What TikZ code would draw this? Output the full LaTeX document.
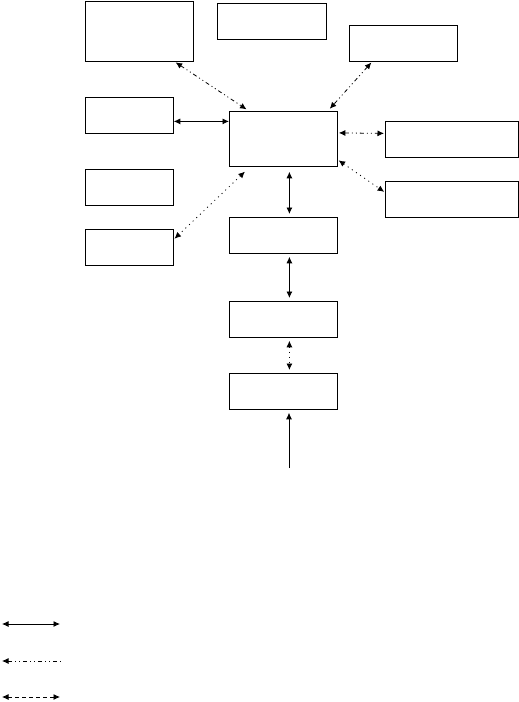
\documentclass[tikz,border=0pt]{standalone}
\usetikzlibrary{arrows.meta,positioning}

\tikzset{
  blk/.style={draw, line width=0.8pt, inner sep=0pt, anchor=north west},
  lnk/.style={line width=0.8pt, {Latex[length=6.5pt,width=6pt]}-{Latex[length=6.5pt,width=6pt]}},
  onelnk/.style={line width=0.8pt, {Latex[length=6.5pt,width=6pt]}-},
  dshdot/.style={dash pattern=on 4pt off 3pt on 1pt off 3pt on 1pt off 3pt},
  dots/.style={dash pattern=on 1pt off 4pt},
  dsh/.style={dash pattern=on 4pt off 3pt},
}

\begin{document}
\begin{tikzpicture}[x=1pt,y=-1pt]
    \useasboundingbox (0,0) rectangle (519,702);
    % Top row
    \node[blk, minimum width=108pt, minimum height=60pt] (tl) at (85,1) {};
    \node[blk, minimum width=109pt, minimum height=36pt] (tm) at (217,3) {};
    \node[blk, minimum width=108pt, minimum height=36pt] (tr) at (349,25) {};
    % Left column
    \node[blk, minimum width=88pt, minimum height=36pt] (lf1) at (85,97) {};
    \node[blk, minimum width=88pt, minimum height=36pt] (lf2) at (85,169) {};
    \node[blk, minimum width=88pt, minimum height=36pt] (lf3) at (85,229) {};
    % Hub and chain below
    \node[blk, minimum width=108pt, minimum height=55pt] (hub) at (229,111) {};
    \node[blk, minimum width=108pt, minimum height=36pt] (c1) at (229,217) {};
    \node[blk, minimum width=108pt, minimum height=36pt] (c2) at (229,301) {};
    \node[blk, minimum width=108pt, minimum height=36pt] (c3) at (229,373) {};
    \coordinate (src) at (289,468);
    % Right column
    \node[blk, minimum width=133pt, minimum height=36pt] (rt1) at (385,121) {};
    \node[blk, minimum width=133pt, minimum height=36pt] (rt2) at (385,181) {};
    % Links to hub
    \draw[lnk, dshdot, shorten <=1pt, shorten >=3pt]
        ([xshift=-19pt]tl.south east) -- ([xshift=20pt]hub.north west);
    \draw[lnk, dshdot, shorten <=1pt, shorten >=3pt]
        ([xshift=23pt]tr.south west) -- ([xshift=-10pt]hub.north east);
    \draw[lnk] ([yshift=-6pt]lf1.east) -- ([yshift=-6pt]lf1.east -| hub.west);
    \draw[lnk, dshdot, shorten <=1pt, shorten >=1pt]
        ([yshift=6pt]hub.east) -- ([yshift=6pt]rt1.west);
    \draw[lnk, dots, shorten <=1pt, shorten >=1pt]
        ([yshift=7pt]hub.south east) -- ([yshift=7pt]rt2.west);
    \draw[lnk, dots, shorten <=7pt, shorten >=1pt]
        ([xshift=21pt]hub.south west) -- ([yshift=8pt]lf3.east);
    % Chain
    \draw[lnk, shorten <=5pt, shorten >=3pt]
        ([xshift=6pt]hub.south) -- ([xshift=6pt]c1.north);
    \draw[lnk, shorten <=3pt, shorten >=3pt]
        ([xshift=6pt]c1.south) -- ([xshift=6pt]c2.north);
    \draw[lnk, dots, shorten <=3pt, shorten >=3pt]
        ([xshift=6pt]c2.south) -- ([xshift=6pt]c3.north);
    \draw[-{Latex[length=6.5pt,width=6pt]}, line width=0.8pt, shorten >=3pt]
        (src) -- (src |- c3.south);
    % Legend
    \coordinate (k1a) at (2,624);  \coordinate (k1b) at (60,624);
    \coordinate (k2a) at (2,661);  \coordinate (k2b) at (61,661);
    \coordinate (k3a) at (2,697);  \coordinate (k3b) at (60,697);
    \draw[lnk] (k1a) -- (k1b);
    \draw[onelnk, dshdot] (k2a) -- (k2b);
    \draw[lnk, dsh] (k3a) -- (k3b);
\end{tikzpicture}
\end{document}
